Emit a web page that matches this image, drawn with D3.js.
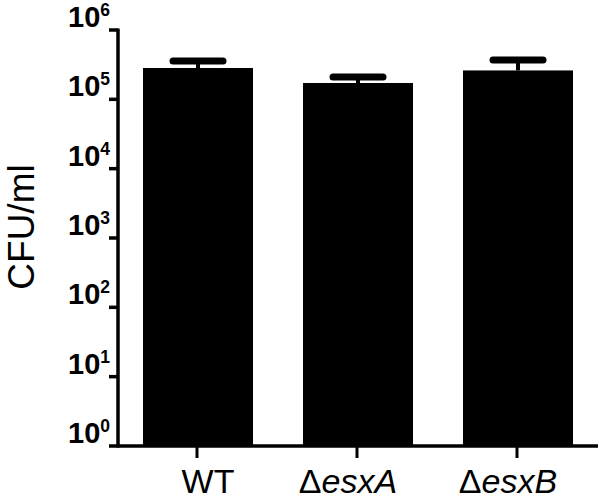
<!DOCTYPE html>
<html lang="en">
<head>
<meta charset="utf-8">
<script src="https://d3js.org/d3.v7.min.js"></script>
<style>
  body { margin: 0; background: #fff; }
</style>
</head>
<body>
<script>
// data
var strains = ["WT", "esxA", "esxB"];
var cfuMean = [2.83e5, 1.72e5, 2.61e5];
var cfuUpper = [3.57e5, 2.10e5, 3.70e5];
var yTickExp = [0, 1, 2, 3, 4, 5, 6];

var width = 600, height = 500;
var font = "Arial, 'Liberation Sans', sans-serif";

var svg = d3.select("body").append("svg")
    .attr("width", width)
    .attr("height", height);

var x = d3.scaleBand()
    .domain(strains)
    .range([118, 598])
    .paddingInner(0.3125)
    .paddingOuter(0.15625);

var y = d3.scaleLog()
    .domain([1, 1e6])
    .range([446, 30]);

// bars
svg.selectAll(".bar")
    .data(strains)
    .enter()
    .append("rect")
    .attr("class", "bar")
    .attr("x", function(d) { return x(d); })
    .attr("y", function(d, i) { return y(cfuMean[i]); })
    .attr("width", x.bandwidth())
    .attr("height", function(d, i) { return y(1) - y(cfuMean[i]); })
    .attr("fill", "#000");

// error bars (upper half only)
var err = svg.selectAll(".err")
    .data(strains)
    .enter()
    .append("g")
    .attr("class", "err")
    .attr("transform", function(d) {
        return "translate(" + (x(d) + x.bandwidth() / 2) + ",0)";
    });

err.append("line")
    .attr("x1", 0).attr("x2", 0)
    .attr("y1", function(d, i) { return y(cfuMean[i]); })
    .attr("y2", function(d, i) { return y(cfuUpper[i]); })
    .attr("stroke", "#000")
    .attr("stroke-width", 4);

err.append("line")
    .attr("x1", -25).attr("x2", 25)
    .attr("y1", function(d, i) { return y(cfuUpper[i]); })
    .attr("y2", function(d, i) { return y(cfuUpper[i]); })
    .attr("stroke", "#000")
    .attr("stroke-width", 7)
    .attr("stroke-linecap", "round");

// y axis
var yAxis = svg.append("g");
yAxis.append("line")
    .attr("x1", 118).attr("x2", 118)
    .attr("y1", y(1e6) - 1.5).attr("y2", y(1) + 1.5)
    .attr("stroke", "#000").attr("stroke-width", 3.5);

var yt = yAxis.selectAll(".ytick")
    .data(yTickExp)
    .enter()
    .append("g")
    .attr("class", "ytick")
    .attr("transform", function(d) { return "translate(0," + y(Math.pow(10, d)) + ")"; });

yt.append("line")
    .attr("x1", 109).attr("x2", 118)
    .attr("stroke", "#000").attr("stroke-width", 3.5);

var lbl = yt.append("text")
    .attr("x", 110)
    .attr("y", -3)
    .attr("text-anchor", "end")
    .attr("font-family", font)
    .attr("font-weight", "bold")
    .attr("font-size", 29);
lbl.append("tspan").text("10");
lbl.append("tspan")
    .attr("dy", -11)
    .attr("font-size", 17.5)
    .text(function(d) { return d; });

// x axis
var xAxis = svg.append("g");
xAxis.append("line")
    .attr("x1", 118).attr("x2", 598)
    .attr("y1", 446).attr("y2", 446)
    .attr("stroke", "#000").attr("stroke-width", 3.5);

xAxis.selectAll(".xtick")
    .data(strains)
    .enter()
    .append("line")
    .attr("x1", function(d) { return x(d) + x.bandwidth() / 2 - 1; })
    .attr("x2", function(d) { return x(d) + x.bandwidth() / 2 - 1; })
    .attr("y1", 446).attr("y2", 458)
    .attr("stroke", "#000").attr("stroke-width", 3);

var xl = xAxis.selectAll(".xlabel")
    .data(strains)
    .enter()
    .append("text")
    .attr("class", "xlabel")
    .attr("x", function(d, i) { return x(d) + x.bandwidth() / 2 + (i === 0 ? 10 : -10); })
    .attr("y", 493)
    .attr("text-anchor", "middle")
    .attr("font-family", font)
    .attr("font-size", 34);

xl.each(function(d) {
    var t = d3.select(this);
    if (d === "WT") {
        t.text(d);
    } else {
        t.append("tspan").text("\u0394");
        t.append("tspan").attr("font-style", "italic").text(d);
    }
});

// y title
svg.append("text")
    .attr("transform", "translate(34,227) rotate(-90)")
    .attr("text-anchor", "middle")
    .attr("font-family", font)
    .attr("font-size", 37)
    .text("CFU/ml");
</script>
</body>
</html>
